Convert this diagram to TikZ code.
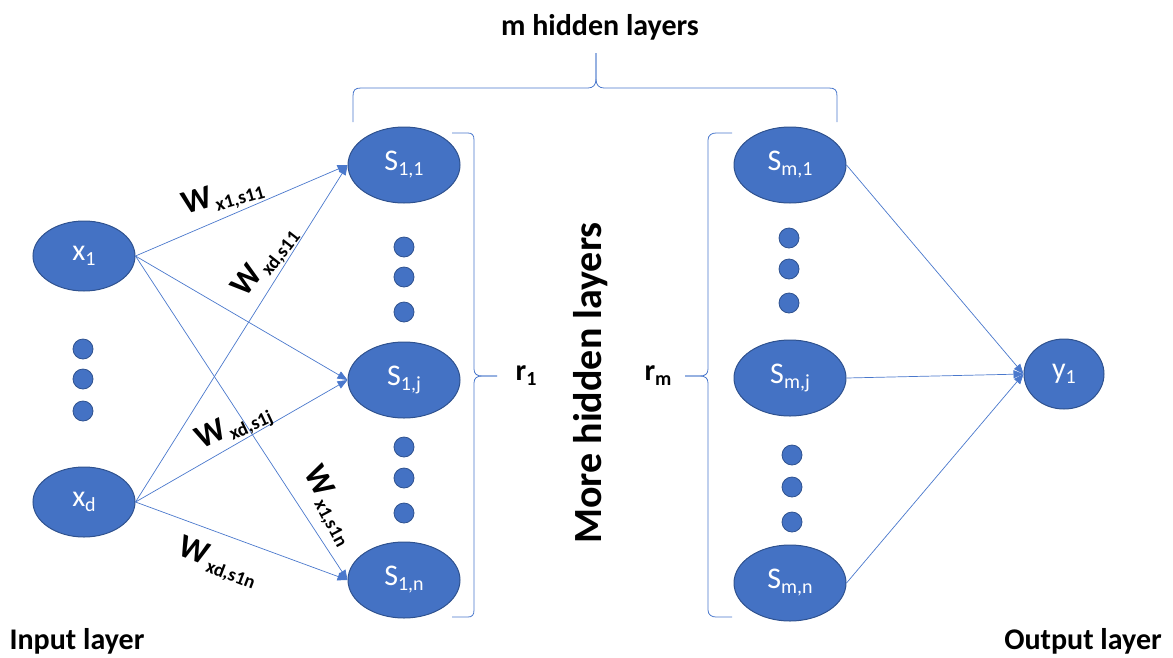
\documentclass[tikz,border=0pt]{standalone}
\usepackage{fontspec}
\setmainfont{Carlito}
\usetikzlibrary{arrows.meta,shapes.geometric}
\definecolor{nodeblue}{HTML}{4472C4}
\definecolor{nodeedge}{HTML}{2F528F}
\definecolor{linkblue}{HTML}{4A78CC}
% lowered subscript in the text font
\newcommand\nsub[2][20]{\raisebox{-0.35ex}{\fontsize{#1}{#1}\selectfont #2}}
% weight label: bold W with a bold subscript
\newcommand\wlab[1]{W\hspace{2pt}\nsub[19]{#1}}
\tikzset{
  neuron/.style={ellipse, fill=nodeblue, draw=nodeedge, line width=1pt,
    minimum width=112pt, minimum height=76pt, inner sep=0pt,
    text=white, font=\fontsize{30}{30}\selectfont},
  inneuron/.style={neuron, minimum width=102pt, minimum height=70pt},
  outneuron/.style={neuron, minimum width=80pt, minimum height=70pt},
  dotnode/.style={circle, fill=nodeblue, draw=nodeedge, line width=0.8pt,
    minimum size=20pt, inner sep=0pt},
  link/.style={draw=linkblue, line width=0.7pt,
    -{Triangle[length=10pt,width=8pt]}},
  bracket/.style={draw=linkblue, line width=0.8pt},
  wlabel/.style={font=\bfseries\fontsize{33}{33}\selectfont, inner sep=0pt},
  caption/.style={font=\bfseries\fontsize{30}{30}\selectfont, inner sep=0pt},
}
\begin{document}
\begin{tikzpicture}[x=1pt, y=-1pt]
\useasboundingbox (0,0) rectangle (1173,657);

% input layer
\node[inneuron] (x1) at (84,256) {x\nsub{1}};
\node[inneuron] (xd) at (84,502) {x\nsub{d}};
\node[dotnode] (ia) at (83,349) {};
\node[dotnode] (ib) at (83,379) {};
\node[dotnode] (ic) at (83,411) {};

% first hidden layer
\node[neuron] (s11) at (404,165) {S\nsub{1,1}};
\node[neuron] (s1j) at (404,380) {S\nsub{1,j}};
\node[neuron] (s1n) at (404,580) {S\nsub{1,n}};
\node[dotnode] (ha) at (404,247) {};
\node[dotnode] (hb) at (404,277) {};
\node[dotnode] (hc) at (404,312) {};
\node[dotnode] (hd) at (404,447) {};
\node[dotnode] (he) at (404,478) {};
\node[dotnode] (hf) at (404,513) {};

% last hidden layer
\node[neuron] (sm1) at (790,165) {S\nsub{m,1}};
\node[neuron] (smj) at (790,378) {S\nsub{m,j}};
\node[neuron] (smn) at (790,583) {S\nsub{m,n}};
\node[dotnode] (ma) at (789,238) {};
\node[dotnode] (mb) at (789,269) {};
\node[dotnode] (mc) at (789,303) {};
\node[dotnode] (md) at (792,455) {};
\node[dotnode] (me) at (792,487) {};
\node[dotnode] (mf) at (792,522) {};

% output layer
\node[outneuron] (y1) at (1064,374) {y\nsub{1}};

% weighted connections
\draw[link] (x1.east) -- (s11.west);
\draw[link] (x1.east) -- (s1j.west);
\draw[link] (x1.east) -- (s1n.west);
\draw[link] (xd.east) -- (s11.west);
\draw[link] (xd.east) -- (s1j.west);
\draw[link] (xd.east) -- (s1n.west);
\draw[link] (sm1.east) -- (y1.west);
\draw[link] (smj.east) -- (y1.west);
\draw[link] (smn.east) -- (y1.west);

% weight labels
\node[wlabel, rotate=16] (w1) at (223,197) {\wlab{x1,s11}};
\node[wlabel, rotate=52] (w2) at (266,262) {\wlab{xd,s11}};
\node[wlabel, rotate=25] (w3) at (234,427) {\wlab{xd,s1j}};
\node[wlabel, rotate=-62] (w4) at (329,506) {\wlab{x1,s1n}};
\node[wlabel, rotate=-21] (w5) at (218,563) {\wlab{xd,s1n}};

% brace grouping the first hidden layer
\draw[bracket] (452,133) -- (468,133) .. controls (472,133) and (474,135) .. (474,140)
  -- (474,369) .. controls (474,374) and (477,376) .. (482,376) -- (497,376);
\draw[bracket] (497,376) -- (482,376) .. controls (477,376) and (474,378) .. (474,383)
  -- (474,610) .. controls (474,615) and (472,617) .. (468,617) -- (452,617);
% brace grouping the last hidden layer
\draw[bracket] (732,133) -- (716,133) .. controls (712,133) and (708,135) .. (708,140)
  -- (708,369) .. controls (708,374) and (705,376) .. (700,376) -- (685,376);
\draw[bracket] (685,376) -- (700,376) .. controls (705,376) and (708,378) .. (708,383)
  -- (708,610) .. controls (708,615) and (712,617) .. (716,617) -- (732,617);
% brace over all hidden layers
\draw[bracket] (353,122) -- (353,96) .. controls (353,90) and (355,88) .. (361,88)
  -- (588,88) .. controls (593,88) and (596,85) .. (596,79) -- (596,53);
\draw[bracket] (596,53) -- (596,79) .. controls (596,85) and (599,88) .. (604,88)
  -- (829,88) .. controls (835,88) and (837,90) .. (837,96) -- (837,122);

% captions
\node[caption] (title) at (600,27) {m hidden layers};
\node[caption, rotate=90, font=\bfseries\fontsize{40}{40}\selectfont] (more) at (591,383) {More hidden layers};
\node[caption] (r1) at (526,376) {r\nsub{1}};
\node[caption] (rm) at (658,376) {r\nsub{m}};
\node[caption] (inl) at (77,641) {Input layer};
\node[caption] (outl) at (1083,641) {Output layer};
\end{tikzpicture}
\end{document}
